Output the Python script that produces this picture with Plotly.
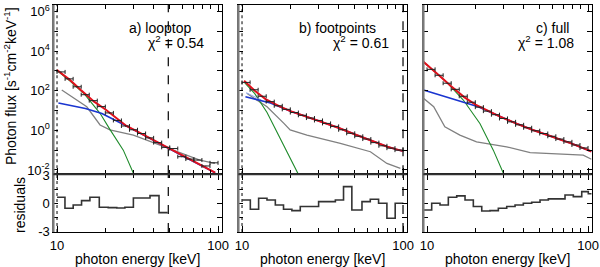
import math
import numpy as np
import plotly.graph_objects as go

# ---------------- data ----------------
bin_edges = [10.0, 11.22, 12.59, 14.13, 15.85, 17.78, 19.95, 22.39, 25.12, 28.18, 31.62,
             35.48, 39.81, 44.67, 50.12, 56.23, 63.10, 70.79, 79.43, 89.13, 100.0]

# log10 photon flux of the data points (one per bin)
a_data_log = [2.95, 2.6, 2.2, 1.8, 1.5, 1.2, 0.88, 0.5, 0.22, 0.03, -0.16, -0.38, -0.62,
              -0.86, -0.92, -1.33, -1.45, -1.5, -1.8, -1.64]
b_data_log = [2.42, 2.05, 1.72, 1.45, 1.24, 1.06, 0.9, 0.76, 0.62, 0.5, 0.35, 0.2, 0.03,
              -0.15, -0.3, -0.44, -0.62, -0.78, -0.9, -1.0]
c_data_log = [3.08, 2.78, 2.38, 2.07, 1.72, 1.42, 1.17, 0.97, 0.79, 0.6, 0.43, 0.28, 0.13,
              -0.02, -0.16, -0.3, -0.44, -0.58, -0.74, -0.89]

# model curves (energy keV, log10 flux)
a_red_E = [10, 12, 14, 17, 20, 23, 27, 31, 40, 48, 60, 70, 80, 96]
a_red_log = [3.05, 2.55, 2.05, 1.45, 1.05, 0.68, 0.22, -0.03, -0.5, -0.86, -1.28, -1.57, -1.81, -2.14]
a_blue_E = [10.2, 15, 19, 22, 25, 31, 40, 48, 60, 70, 80, 96]
a_blue_log = [1.38, 1.1, 0.85, 0.6, 0.36, -0.04, -0.5, -0.86, -1.28, -1.57, -1.81, -2.14]
a_green_E = [10, 12, 14.9, 18.5, 21.3, 25.8, 29.8]
a_green_log = [3.02, 2.5, 1.8, 0.86, 0.05, -1.0, -2.17]
a_gray_E = [10.7, 15.3, 18.5, 21.3, 29.8, 47.9, 77.1, 95.6]
a_gray_log = [2.04, 1.19, 0.27, 0.02, -0.24, -0.86, -1.5, -1.67]

b_red_E = [10.3, 12, 14, 17, 20, 25, 30, 40, 50, 60, 70, 80, 90, 100]
b_red_log = [2.5, 2.0, 1.58, 1.22, 0.97, 0.7, 0.49, 0.12, -0.2, -0.45, -0.66, -0.83, -0.95, -1.05]
b_blue_E = [10.5, 13, 15, 17, 20, 25, 30, 40, 50, 60, 70, 80, 90, 100]
b_blue_log = [1.7, 1.52, 1.38, 1.2, 0.96, 0.7, 0.49, 0.12, -0.2, -0.45, -0.66, -0.83, -0.95, -1.05]
b_lblue_E = [10.6, 13.2]
b_lblue_log = [1.9, 1.53]
b_green_E = [10.4, 12, 14.3, 17.3, 20, 22.5]
b_green_log = [2.4, 1.85, 0.9, -0.45, -1.4, -2.26]
b_gray_E = [10.7, 14.3, 18.2, 19.0, 19.9, 25.3, 40.8, 62.7, 79.4, 96.3]
b_gray_log = [1.87, 1.19, 0.35, 0.18, 0.02, -0.24, -0.66, -1.08, -1.67, -1.92]

c_red_E = [9.5, 10.2, 12, 14, 17, 20, 24, 28, 35, 45, 60, 70, 80, 90, 100, 105]
c_red_log = [3.46, 3.25, 2.75, 2.25, 1.68, 1.3, 0.97, 0.72, 0.38, 0.03, -0.32, -0.5, -0.68, -0.85, -1.0, -1.07]
c_blue_E = [9.5, 15, 20.8, 24, 28, 35, 45, 60, 70, 80, 90, 100, 105]
c_blue_log = [2.04, 1.55, 1.19, 0.96, 0.72, 0.38, 0.03, -0.32, -0.5, -0.68, -0.85, -1.0, -1.07]
c_green_E = [9.5, 13.2, 16.8, 21.3, 25.8, 29.8]
c_green_log = [3.45, 2.45, 1.53, 0.35, -1.0, -2.17]
c_gray_E = [9.5, 11.0, 12.9, 16.0, 20.3, 31.2, 43.7, 52.8, 73.6, 93.4, 105]
c_gray_log = [1.62, 1.19, 0.18, -0.24, -0.58, -0.83, -1.13, -1.16, -1.25, -1.25, -1.46]

# residuals (step edges in keV, value per step)
a_res_edges = [10.0, 11.2, 12.6, 14.2, 16.0, 18.3, 20.8, 23.5, 26.4, 29.8, 33.6, 37.8, 43.0, 48.7]
a_res_vals = [0.64, -0.53, -0.18, 0.28, 0.64, -0.42, -0.46, -0.5, -0.42, 0.56, 0.56, 0.81, -0.99]
b_res_edges = [10.0, 11.26, 12.68, 14.29, 16.1, 18.1, 20.4, 23.0, 29.9, 38.0, 42.7, 48.1, 55.6,
               62.6, 70.5, 79.4, 89.4, 100.6]
b_res_vals = [0.35, -0.64, 0.53, 0.35, -0.18, -0.64, -0.78, -0.35, 0.17, 0.35, 1.76, -0.71, 0.17,
              0.42, 0.0, -1.59, 0.0]
c_res_edges = [9.48, 10.69, 12.04, 13.56, 15.29, 17.22, 19.39, 21.87, 24.62, 27.73, 31.26, 35.22,
               39.64, 44.69, 50.34, 56.68, 63.92, 71.96, 81.02, 91.4, 100.4, 105.4]
c_res_vals = [-0.71, 0.0, -0.18, 0.64, 0.78, 0.35, -0.35, -0.82, -0.78, -0.53, -0.35, -0.18, 0.0,
              0.1, 0.35, 0.46, 0.46, 0.88, 0.7, 1.23, 1.0]

panel_labels = ["a) looptop", "b) footpoints", "c) full"]
chi2_labels = ["0.54", "0.61", "1.08"]
dashed_E = [49.1, 100.0, None]
dotted_E = [10.0, 10.0, None]

x_ticks_major = [10, 100]
x_ticks_minor = [20, 30, 40, 50, 60, 70, 80, 90]
y_decades = [-2, -1, 0, 1, 2, 3, 4, 5, 6]
res_ticks = [-3, -1.5, 0, 1.5, 3]

# ---------------- layout geometry ----------------
W, H = 600, 267
x_doms = [(53.3, 221.7), (238.3, 406.7), (423.3, 591.7)]
y_top_px, y_sep_px, y_bot_px = 5.0, 174.3, 232.0
up_dom = [1 - y_sep_px / H, 1 - y_top_px / H]
res_dom = [1 - y_bot_px / H, 1 - y_sep_px / H]
xrange_log = [math.log10(9.48), math.log10(105.4)]
up_yrange_log = [-2.22, 6.33]
res_yrange = [-3.05, 3.07]

RED, BLUE, GREEN, GRAY = "#e3101c", "#1a35d0", "#1e8a2a", "#808080"
FONT = "Liberation Sans, Arial, sans-serif"

fig = go.Figure()

panels = [
    (a_data_log, a_red_E, a_red_log, a_blue_E, a_blue_log, a_green_E, a_green_log, a_gray_E, a_gray_log, a_res_edges, a_res_vals),
    (b_data_log, b_red_E, b_red_log, b_blue_E, b_blue_log, b_green_E, b_green_log, b_gray_E, b_gray_log, b_res_edges, b_res_vals),
    (c_data_log, c_red_E, c_red_log, c_blue_E, c_blue_log, c_green_E, c_green_log, c_gray_E, c_gray_log, c_res_edges, c_res_vals),
]

edges = np.array(bin_edges)
lo, hi = edges[:-1], edges[1:]
centers = np.sqrt(lo * hi)

shapes = []
annotations = []
layout_axes = {}


def axid(n):
    return "" if n == 1 else str(n)


for i, p in enumerate(panels):
    (dlog, rE, rL, bE, bL, gE, gL, grE, grL, resE, resV) = p
    nu, nr = 2 * i + 1, 2 * i + 2
    xu, yu = "x" + axid(nu), "y" + axid(nu)
    xr, yr = "x" + axid(nr), "y" + axid(nr)

    def line(xs, ys, color, width, dash="solid", xa=xu, ya=yu):
        fig.add_trace(go.Scatter(x=xs, y=ys, mode="lines",
                                 line=dict(color=color, width=width, dash=dash),
                                 xaxis=xa, yaxis=ya, hoverinfo="skip", cliponaxis=False))

    # vertical reference lines (energy range markers)
    for E, dash, col, wd in ((dotted_E[i], "dot", "#555", 1.5), (dashed_E[i], "dash", "black", 1.2)):
        if E:
            line([E, E], [10 ** up_yrange_log[0], 10 ** up_yrange_log[1]], col, wd, dash)
            line([E, E], res_yrange, col, wd, dash, xa=xr, ya=yr)

    line(grE, 10 ** np.array(grL), GRAY, 1.3)
    line(gE, 10 ** np.array(gL), GREEN, 1.1)
    if i == 1:
        line(b_lblue_E, 10 ** np.array(b_lblue_log), "#8da6ea", 1.0)
    line(bE, 10 ** np.array(bL), BLUE, 1.6)
    line(rE, 10 ** np.array(rL), RED, 2.0)
    fig.add_trace(go.Scatter(
        x=centers, y=10 ** np.array(dlog), mode="markers",
        marker=dict(size=1, color="#222"),
        error_x=dict(type="data", symmetric=False, array=hi - centers,
                     arrayminus=centers - lo, color="#222", thickness=1, width=2),
        xaxis=xu, yaxis=yu, hoverinfo="skip"))

    # residual steps
    fig.add_trace(go.Scatter(x=resE, y=list(resV) + [resV[-1]], mode="lines",
                             line=dict(color="#333333", width=1.6, shape="hv"),
                             xaxis=xr, yaxis=yr, hoverinfo="skip"))

    dom = [x_doms[i][0] / W, x_doms[i][1] / W]
    common_x = dict(type="log", range=xrange_log, domain=dom, showline=True, linecolor="black",
                    linewidth=1, mirror="allticks", ticks="inside", tickvals=x_ticks_major,
                    ticklen=6, tickcolor="black", showgrid=False, zeroline=False,
                    automargin=False,
                    minor=dict(tickmode="array", tickvals=x_ticks_minor, ticks="inside",
                               ticklen=4, tickcolor="black", showgrid=False),
                    tickfont=dict(family=FONT, size=13, color="black"))
    layout_axes["xaxis" + axid(nu)] = dict(common_x, anchor=yu, showticklabels=False)
    layout_axes["xaxis" + axid(nr)] = dict(common_x, anchor=yr, showticklabels=True,
                                           ticktext=["10", "100"], ticklabelstandoff=1)
    layout_axes["yaxis" + axid(nu)] = dict(
        type="log", range=up_yrange_log, domain=up_dom, anchor=xu, showline=True,
        linecolor="black", linewidth=1, mirror="allticks", ticks="inside", ticklen=5,
        tickcolor="black", tickvals=[10.0 ** d for d in y_decades], automargin=False,
        ticktext=[(f"10<sup>{d}</sup>" if d % 2 == 0 else "") for d in y_decades],
        showticklabels=(i == 0), showgrid=False, zeroline=False,
        tickfont=dict(family=FONT, size=13, color="black"))
    layout_axes["yaxis" + axid(nr)] = dict(
        range=res_yrange, domain=res_dom, anchor=xr, showline=True, linecolor="black",
        linewidth=1, mirror="allticks", ticks="inside", ticklen=5, tickcolor="black",
        tickvals=res_ticks, ticktext=["-3", "", "0", "", "3"], showticklabels=(i == 0),
        showgrid=False, zeroline=False, automargin=False,
        tickfont=dict(family=FONT, size=13, color="black"))

    # left gray axis band and separator line
    shapes.append(dict(type="line", xref="paper", yref="paper", x0=dom[0], x1=dom[0],
                       y0=res_dom[0], y1=up_dom[1], line=dict(color="#7a7a7a", width=2.5)))
    shapes.append(dict(type="line", xref="paper", yref="paper", x0=dom[0], x1=dom[1],
                       y0=up_dom[0], y1=up_dom[0], line=dict(color="#333", width=2)))

    annotations.append(dict(text="photon energy [keV]", xref="paper", yref="paper",
                            x=(dom[0] + dom[1]) / 2, y=1 - 259 / H, xanchor="center",
                            yanchor="middle", showarrow=False,
                            font=dict(family=FONT, size=14, color="black")))

# panel labels
label_pos = [(193, 206), (378, 391), (571, 576)]
for i in range(3):
    annotations.append(dict(text=panel_labels[i], xref="paper", yref="paper",
                            x=label_pos[i][0] / W, y=1 - 28 / H, xanchor="right",
                            yanchor="middle", showarrow=False,
                            font=dict(family=FONT, size=14, color="black")))
    annotations.append(dict(text=f"χ<sup>2</sup> = {chi2_labels[i]}", xref="paper",
                            yref="paper", x=label_pos[i][1] / W, y=1 - 42 / H,
                            xanchor="right", yanchor="middle", showarrow=False,
                            font=dict(family=FONT, size=14, color="black")))

annotations.append(dict(text="Photon flux [s<sup>-1</sup>cm<sup>-2</sup>keV<sup>-1</sup>]",
                        xref="paper", yref="paper", x=10 / W, y=1 - 86 / H, textangle=-90,
                        xanchor="center", yanchor="middle", showarrow=False,
                        font=dict(family=FONT, size=14, color="black")))
annotations.append(dict(text="residuals", xref="paper", yref="paper", x=20 / W,
                        y=1 - 205 / H, textangle=-90, xanchor="center", yanchor="middle",
                        showarrow=False, font=dict(family=FONT, size=14, color="black")))

fig.update_layout(width=W, height=H, margin=dict(l=0, r=0, t=0, b=0, autoexpand=False),
                  plot_bgcolor="white", paper_bgcolor="white", showlegend=False,
                  shapes=shapes, annotations=annotations, **layout_axes)

fig.write_html("out.html", config={"displayModeBar": False},
               post_script="document.body.style.margin='0';document.body.style.padding='0';")
